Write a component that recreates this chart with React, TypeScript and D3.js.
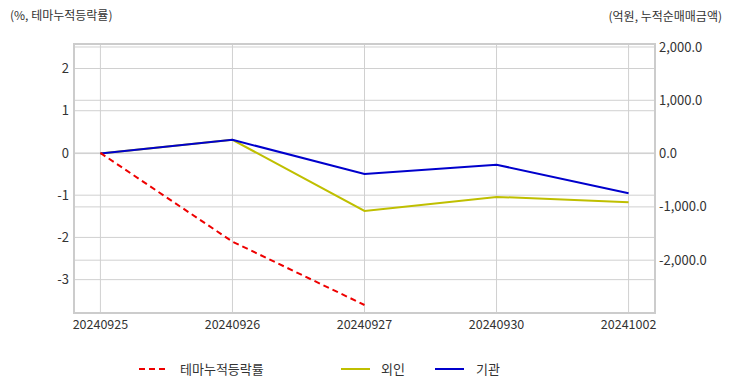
import React from "react";
import * as d3 from "d3";

const categories = ["20240925", "20240926", "20240927", "20240930", "20241002"];
const themeRate: (number | null)[] = [0, -2.1, -3.6, null, null];
const foreign: (number | null)[] = [0, 258, -1075, -813, -912];
const institution: (number | null)[] = [0, 258, -383, -209, -744];
const leftTicks = [2, 1, 0, -1, -2, -3];
const rightTicks = [2000, 1000, 0, -1000, -2000];

const W = 732, H = 392;
const L = 74, R = 655, T = 44, B = 313;
const FONT = "'Noto Sans CJK KR', 'Noto Sans', sans-serif";

export default function App() {
  const x = d3.scalePoint<string>().domain(categories).range([L, R]).padding(0.2);
  const yL = d3.scaleLinear().domain([-3.79, 2.58]).range([B, T]);
  const yR = d3.scaleLinear().domain([-2991, 2056]).range([B, T]);

  const mk = (ys: d3.ScaleLinear<number, number>) =>
    d3.line<number | null>()
      .defined((d) => d !== null)
      .x((_, i) => x(categories[i])!)
      .y((d) => ys(d as number));

  const lineL = mk(yL);
  const lineR = mk(yR);
  const grid = "#d0d0d0";
  const txt = "#333";
  const fmt = (v: number) => d3.format(",.1f")(v).replace("\u2212", "-");

  return (
    <svg width={W} height={H} style={{ position: "absolute", left: 0, top: 0, background: "#fff" }} fontFamily={FONT}>
      <text x={10} y={20} fontSize={12} fill={txt}>(%, 테마누적등락률)</text>
      <text x={722} y={21} fontSize={12} fill={txt} textAnchor="end">(억원, 누적순매매금액)</text>

      {leftTicks.map((t) => (
        <line key={"gl" + t} x1={L} x2={R} y1={yL(t)} y2={yL(t)} stroke={grid} strokeWidth={1} />
      ))}
      {rightTicks.map((t) => (
        <line key={"gr" + t} x1={L} x2={R} y1={yR(t)} y2={yR(t)} stroke={grid} strokeWidth={1} />
      ))}
      {categories.map((c) => (
        <line key={"gx" + c} x1={x(c)} x2={x(c)} y1={T} y2={B} stroke={grid} strokeWidth={1} />
      ))}
      <rect x={L} y={T} width={R - L} height={B - T} fill="none" stroke="#cccccc" strokeWidth={2} />

      {leftTicks.map((t) => (
        <text key={"tl" + t} x={69} y={yL(t)} dy="0.35em" fontSize={13} fill={txt} textAnchor="end">{t}</text>
      ))}
      {rightTicks.map((t) => (
        <text key={"tr" + t} x={659} y={yR(t)} dy="0.35em" fontSize={13} fill={txt}>{fmt(t)}</text>
      ))}
      {categories.map((c) => (
        <text key={"tx" + c} x={x(c)} y={329} fontSize={12.5} fill={txt} textAnchor="middle">{c}</text>
      ))}

      <path d={lineR(foreign) || ""} fill="none" stroke="#bfbf00" strokeWidth={2} />
      <path d={lineR(institution) || ""} fill="none" stroke="#0000cc" strokeWidth={2} />
      <path d={lineL(themeRate) || ""} fill="none" stroke="#ee0000" strokeWidth={2} strokeDasharray="6,4" />

      <line x1={139} x2={167} y1={369} y2={369} stroke="#ee0000" strokeWidth={2} strokeDasharray="6,4" />
      <text x={180} y={369} dy="0.35em" fontSize={13} fill={txt}>테마누적등락률</text>
      <line x1={341} x2={370} y1={369} y2={369} stroke="#bfbf00" strokeWidth={2} />
      <text x={381} y={369} dy="0.35em" fontSize={13} fill={txt}>외인</text>
      <line x1={435} x2={464} y1={369} y2={369} stroke="#0000cc" strokeWidth={2} />
      <text x={476} y={369} dy="0.35em" fontSize={13} fill={txt}>기관</text>
    </svg>
  );
}
